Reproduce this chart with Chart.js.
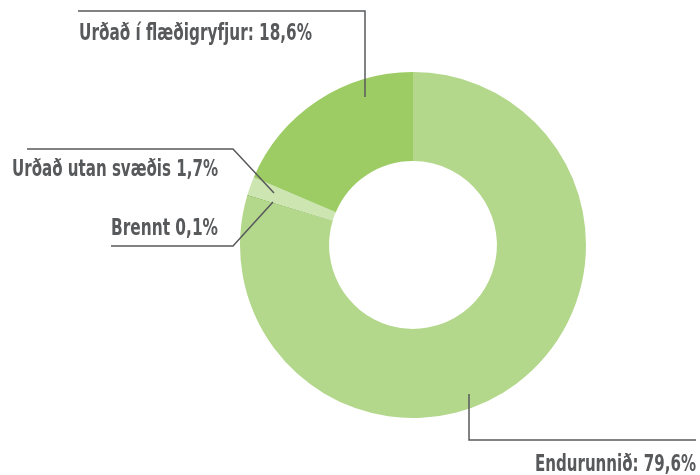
<!DOCTYPE html>
<html>
<head>
<meta charset="utf-8">
<script src="https://cdn.jsdelivr.net/npm/chart.js@4"></script>
<style>
    html, body { margin: 0; padding: 0; background: #fff; }
    #wrap { width: 700px; height: 475px; }
</style>
</head>
<body>
<div id="wrap"><canvas id="waste-chart" width="700" height="475"></canvas></div>
<script>
const categories = ['Endurunnið', 'Brennt', 'Urðað utan svæðis', 'Urðað í flæðigryfjur'];
const shares = [79.6, 0.1, 1.7, 18.6];
const labelTexts = ['Endurunnið: 79,6%', 'Brennt 0,1%', 'Urðað utan svæðis 1,7%', 'Urðað í flæðigryfjur: 18,6%'];
const sliceColors = ['#b3d78b', '#8dbf5c', '#cde5b1', '#9ccc63'];

// leader line paths + text anchors (pixel layout only), w = squeezed text width
const callouts = [
    { path: [[469, 394], [469, 440], [696, 440]], x: 696, y: 465, align: 'right', w: 161 },
    { path: [[273, 202], [233, 246], [111, 246]], x: 218, y: 229, align: 'right', w: 107 },
    { path: [[274, 193], [233, 149], [27, 149]], x: 218, y: 170, align: 'right', w: 206 },
    { path: [[365, 97], [365, 11], [78, 11]], x: 79, y: 34, align: 'left', w: 233 }
];

const FONT = 'bold 23px "DejaVu Sans Condensed", "DejaVu Sans", sans-serif';

const calloutPlugin = {
    id: 'callouts',
    afterDraw(chart) {
        const ctx = chart.ctx;
        ctx.save();
        ctx.strokeStyle = '#58595b';
        ctx.lineWidth = 1.5;
        callouts.forEach((c, i) => {
            ctx.beginPath();
            c.path.forEach((p, j) => j === 0 ? ctx.moveTo(p[0], p[1]) : ctx.lineTo(p[0], p[1]));
            ctx.stroke();
            ctx.font = FONT;
            ctx.fillStyle = '#58595b';
            ctx.textAlign = c.align;
            ctx.textBaseline = 'middle';
            ctx.fillText(labelTexts[i], c.x, c.y, c.w);
        });
        ctx.restore();
    }
};

new Chart(document.getElementById('waste-chart').getContext('2d'), {
    type: 'doughnut',
    data: {
        labels: categories,
        datasets: [{
            data: shares,
            backgroundColor: sliceColors,
            borderWidth: 0
        }]
    },
    options: {
        responsive: false,
        animation: false,
        cutout: '48.5%',
        layout: { padding: { top: 72, bottom: 57, left: 240, right: 114 } },
        plugins: {
            legend: { display: false },
            tooltip: { enabled: false }
        }
    },
    plugins: [calloutPlugin]
});
</script>
</body>
</html>
